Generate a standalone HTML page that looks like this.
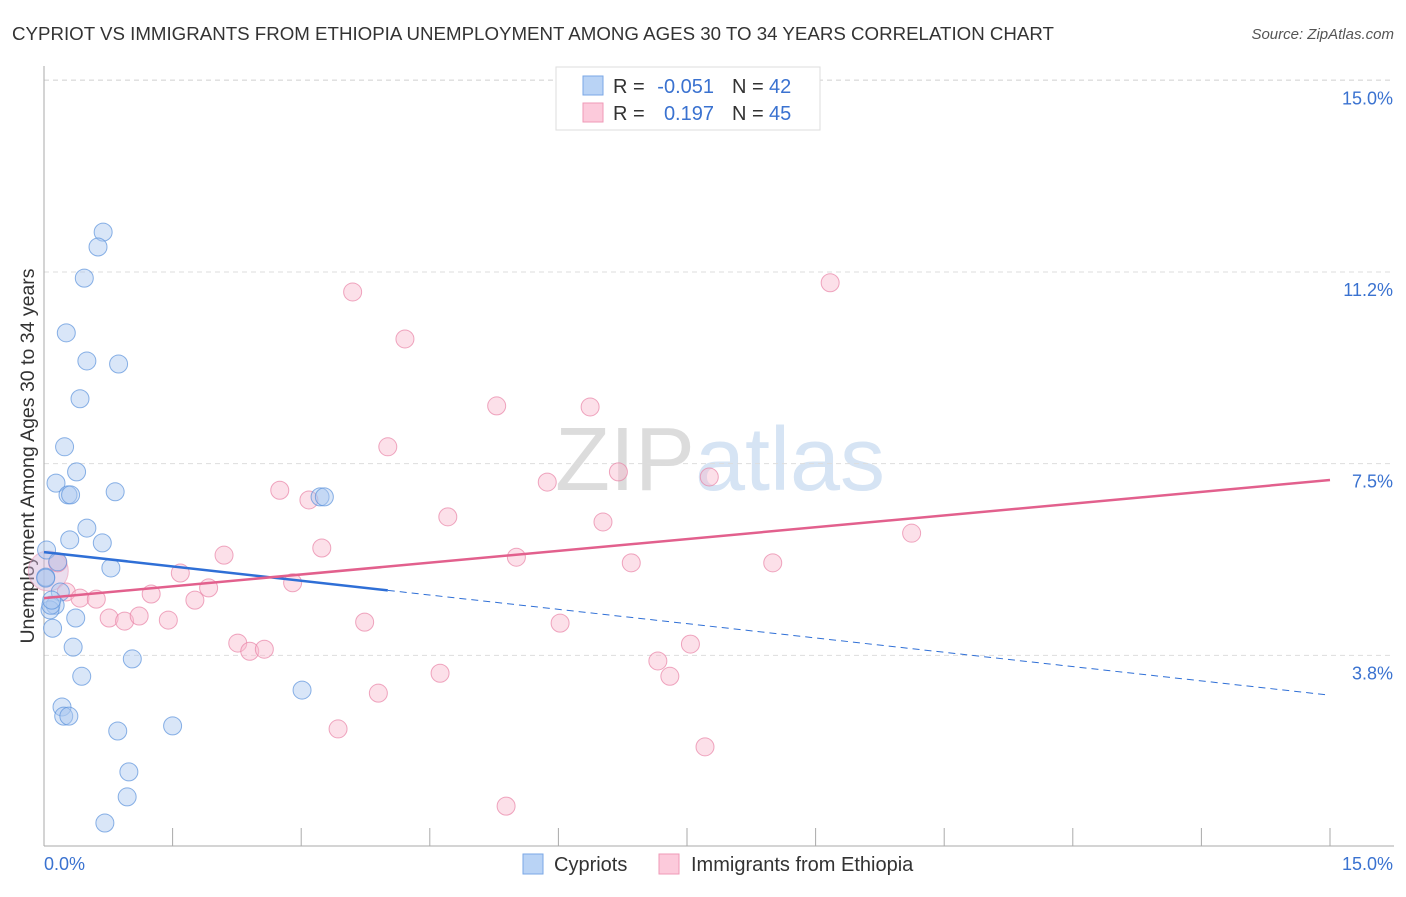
<!DOCTYPE html>
<html><head><meta charset="utf-8"><style>
body{margin:0;background:#fff;font-family:"Liberation Sans",sans-serif;}
svg text{font-family:"Liberation Sans",sans-serif;}
</style></head><body>
<svg id="chart" width="1406" height="892">
<text x="12" y="40" font-size="18" fill="#333" textLength="1042" lengthAdjust="spacingAndGlyphs">CYPRIOT VS IMMIGRANTS FROM ETHIOPIA UNEMPLOYMENT AMONG AGES 30 TO 34 YEARS CORRELATION CHART</text>
<text x="1394" y="39" font-size="15" fill="#555" text-anchor="end" font-style="italic">Source: ZipAtlas.com</text>
<text x="720" y="490" font-size="90" fill="#e4e4e4" text-anchor="middle" font-family="Liberation Serif"><tspan fill="#dcdcdc">ZIP</tspan><tspan fill="#d6e4f4" font-family="Liberation Sans">atlas</tspan></text>
<text transform="translate(34,456) rotate(-90)" font-size="19.5" fill="#333" text-anchor="middle">Unemployment Among Ages 30 to 34 years</text>
<g id="grid"></g><g id="axes"></g><g id="pts"></g><g id="trend"></g>
<g>
<rect x="556" y="67" width="264" height="63" fill="#fff" stroke="#ddd"/>
<rect x="583" y="76" width="20" height="19" fill="#b9d3f5" stroke="#7aa7e6"/>
<rect x="583" y="103" width="20" height="19" fill="#fccadb" stroke="#ef9ab7"/>
<text x="613" y="93" font-size="20" fill="#333">R =</text>
<text x="714" y="93" font-size="20" fill="#3a72d0" text-anchor="end">-0.051</text>
<text x="732" y="93" font-size="20" fill="#333">N =</text>
<text x="769" y="93" font-size="20" fill="#3a72d0">42</text>
<text x="613" y="120" font-size="20" fill="#333">R =</text>
<text x="714" y="120" font-size="20" fill="#3a72d0" text-anchor="end">0.197</text>
<text x="732" y="120" font-size="20" fill="#333">N =</text>
<text x="769" y="120" font-size="20" fill="#3a72d0">45</text>
</g>
<g>
<rect x="523" y="854" width="20" height="20" fill="#b9d3f5" stroke="#7aa7e6"/>
<text x="554" y="871" font-size="20" fill="#333">Cypriots</text>
<rect x="659" y="854" width="20" height="20" fill="#fccadb" stroke="#ef9ab7"/>
<text x="691" y="871" font-size="20" fill="#333">Immigrants from Ethiopia</text>
</g>
</svg>
<script>
const yTicks=[3.75,7.5,11.25,15];
const yTickLabels=["3.8%","7.5%","11.2%","15.0%"];
const blueX=[0.69,0.63,0.47,0.26,0.50,0.87,0.42,0.24,0.38,0.14,0.28,0.31,0.83,3.22,3.27,0.50,0.30,0.68,0.03,0.16,0.78,0.02,0.19,0.13,0.07,0.08,0.37,0.10,0.34,1.03,0.44,3.01,0.21,0.23,0.29,0.86,1.50,0.99,0.97,0.71,0.02,0.09];
const blueY=[12.03,11.74,11.13,10.06,9.51,9.45,8.77,7.83,7.34,7.12,6.89,6.89,6.95,6.85,6.85,6.24,6.01,5.95,5.81,5.58,5.46,5.28,4.99,4.73,4.64,4.73,4.48,4.28,3.91,3.68,3.34,3.07,2.74,2.56,2.56,2.27,2.37,1.47,0.98,0.47,5.26,4.83];
const pinkX=[3.60,9.17,4.21,5.28,6.37,4.01,6.70,5.87,7.76,2.75,3.09,4.71,6.52,10.12,3.24,2.10,5.51,6.85,8.50,1.59,0.16,2.90,1.92,1.25,0.26,0.42,0.61,1.76,0.76,0.94,1.11,1.45,3.74,6.02,2.26,2.40,2.57,7.54,7.16,7.30,4.62,3.90,3.43,7.71,5.39];
const pinkY=[10.86,11.04,9.94,8.63,8.61,7.83,7.34,7.14,7.24,6.98,6.79,6.46,6.36,6.14,5.85,5.71,5.67,5.56,5.56,5.36,5.56,5.17,5.07,4.95,4.99,4.87,4.85,4.83,4.48,4.42,4.52,4.44,4.40,4.38,3.99,3.83,3.87,3.97,3.64,3.34,3.40,3.01,2.31,1.96,0.80];
const blueTrend=[5.77,2.97], blueSolidEnd=4.01;
const pinkTrend=[4.87,7.18];
const NS="http://www.w3.org/2000/svg";
const X=v=>44+v*(1286/15), Y=v=>847-v*51.11;
function mk(tag,attrs,parent){const e=document.createElementNS(NS,tag);for(const k in attrs)e.setAttribute(k,attrs[k]);document.getElementById(parent).appendChild(e);return e;}
let e=mk('line',{x1:44,y1:80,x2:1394,y2:80,stroke:'#ddd','stroke-dasharray':'5,4'},'grid');


yTicks.forEach((t,i)=>{
 let g=mk('line',{x1:44,y1:Y(t),x2:1394,y2:Y(t),stroke:'#ddd','stroke-dasharray':'5,4'},'grid');
 
 
 let l=mk('text',{x:1393,y:Y(t)+24,'font-size':18,fill:'#3a72d0','text-anchor':'end'},'grid');l.textContent=yTickLabels[i];
 
 
});
e=mk('line',{x1:44,y1:66,x2:44,y2:846,stroke:'#aaa'},'axes');


e=mk('line',{x1:44,y1:846,x2:1394,y2:846,stroke:'#aaa'},'axes');


for(let i=0;i<=10;i++){let t=mk('line',{x1:X(i*1.5),y1:828,x2:X(i*1.5),y2:846,stroke:'#aaa'},'axes');
 
 }
e=mk('text',{x:44,y:870,'font-size':18,fill:'#3a72d0'},'axes');e.textContent='0.0%';


e=mk('text',{x:1393,y:870,'font-size':18,fill:'#3a72d0','text-anchor':'end'},'axes');e.textContent='15.0%';


e=mk('circle',{cx:X(0.05),cy:Y(5.4),r:20,fill:'rgba(210,180,215,0.45)',stroke:'rgba(239,154,183,0.6)'},'pts');


pinkX.forEach((x,i)=>{let c=mk('circle',{cx:X(x),cy:Y(pinkY[i]),r:9,fill:'rgba(248,186,207,0.45)',stroke:'rgba(232,130,165,0.7)'},'pts');
 
 });
blueX.forEach((x,i)=>{let c=mk('circle',{cx:X(x),cy:Y(blueY[i]),r:9,fill:'rgba(170,200,240,0.45)',stroke:'rgba(90,145,220,0.7)'},'pts');
 
 });
const bAt=x=>blueTrend[0]+(blueTrend[1]-blueTrend[0])*x/15;
e=mk('line',{x1:X(0),y1:Y(bAt(0)),x2:X(blueSolidEnd),y2:Y(bAt(blueSolidEnd)),stroke:'#2f6fd6','stroke-width':2.5},'trend');


e=mk('line',{x1:X(blueSolidEnd),y1:Y(bAt(blueSolidEnd)),x2:X(15),y2:Y(bAt(15)),stroke:'#2f6fd6','stroke-width':1,'stroke-dasharray':'7,5'},'trend');


e=mk('line',{x1:X(0),y1:Y(pinkTrend[0]),x2:X(15),y2:Y(pinkTrend[1]),stroke:'#e2608d','stroke-width':2.5},'trend');


</script>
</body></html>
